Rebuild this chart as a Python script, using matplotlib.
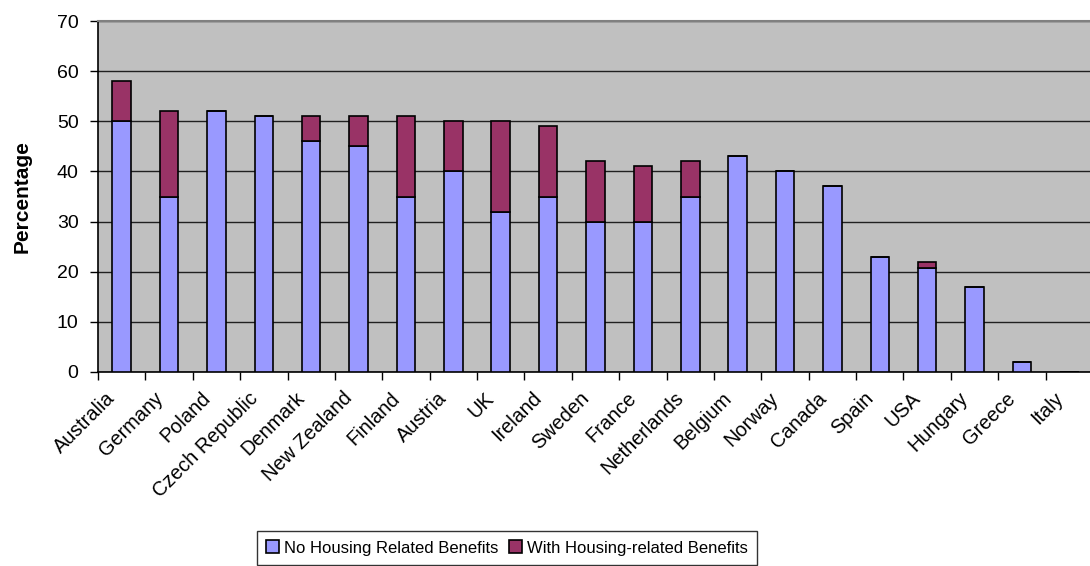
import matplotlib.pyplot as plt
import matplotlib.transforms as mtransforms
import numpy as np

plt.rcParams['font.family'] = ['Liberation Sans', 'DejaVu Sans']

countries = ['Australia', 'Germany', 'Poland', 'Czech Republic', 'Denmark',
             'New Zealand', 'Finland', 'Austria', 'UK', 'Ireland', 'Sweden',
             'France', 'Netherlands', 'Belgium', 'Norway', 'Canada', 'Spain',
             'USA', 'Hungary', 'Greece', 'Italy']
no_housing = [50, 35, 52, 51, 46, 45, 35, 40, 32, 35, 30,
              30, 35, 43, 40, 37, 23, 20.7, 17, 2, 0]
with_housing = [8, 17, 0, 0, 5, 6, 16, 10, 18, 14, 12,
                11, 7, 0, 0, 0, 0, 1.2, 0, 0, 0]

BLUE = '#9999FF'
MAROON = '#993366'

fig = plt.figure(figsize=(10.9, 5.66), dpi=100)
# axes spans 98 px -> ~1093 px (runs off the right edge like the original)
ax = fig.add_axes([98 / 1090, 1 - 372 / 566, 995 / 1090, 351 / 566])
ax.set_facecolor('#C0C0C0')

x = np.arange(len(countries))
w = 0.39
ax.bar(x, no_housing, w, color=BLUE, edgecolor='black', linewidth=1.2,
       label='No Housing Related Benefits', zorder=3)
ax.bar(x, with_housing, w, bottom=no_housing, color=MAROON, edgecolor='black',
       linewidth=1.2, label='With Housing-related Benefits', zorder=3)

ax.set_xlim(-0.5, len(countries) - 0.5)
ax.set_ylim(0, 70)
ax.set_yticks(range(0, 71, 10))
ax.tick_params(axis='y', labelsize=14, length=6, width=1, pad=8, direction='out')
ax.grid(axis='y', color='#202020', linewidth=1, zorder=1)

ax.set_xticks(x)
ax.set_xticklabels(countries, rotation=45, ha='right', va='top',
                   rotation_mode='anchor', fontsize=14.3)
ax.tick_params(axis='x', length=0, pad=12)
shift = mtransforms.ScaledTranslation(-16 / 100, 0, fig.dpi_scale_trans)
for lab in ax.get_xticklabels():
    lab.set_transform(lab.get_transform() + shift)
ax.set_xticks(np.arange(-0.5, len(countries)), minor=True)
ax.tick_params(axis='x', which='minor', length=6, width=1, direction='out')

for s in ['left', 'bottom']:
    ax.spines[s].set_color('black')
    ax.spines[s].set_linewidth(1.2)
ax.spines['top'].set_color('#808080')
ax.spines['top'].set_linewidth(1.5)
ax.spines['right'].set_visible(False)

ax.set_ylabel('Percentage', fontsize=15, fontweight='bold', labelpad=18)

leg = fig.legend(loc='center', bbox_to_anchor=(507 / 1090, 1 - 548 / 566),
                 ncol=2, fontsize=12, frameon=True, fancybox=False,
                 handlelength=0.8, handleheight=0.8, handletextpad=0.3,
                 columnspacing=0.6, borderpad=0.55, edgecolor='black')
leg.get_frame().set_linewidth(1)

fig.savefig('out.png', dpi=100, facecolor='white')
